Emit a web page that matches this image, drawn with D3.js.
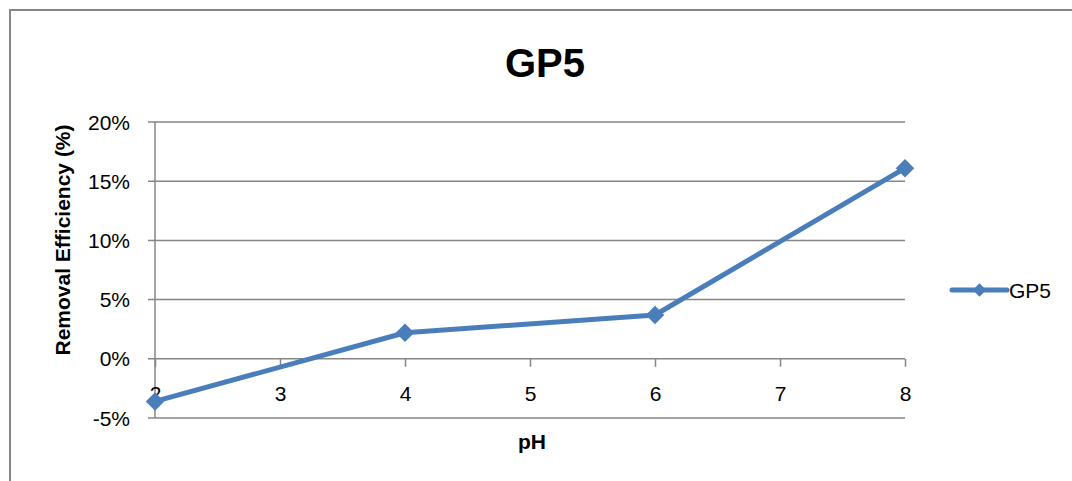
<!DOCTYPE html>
<html>
<head>
<meta charset="utf-8">
<script src="https://cdn.jsdelivr.net/npm/d3@7"></script>
<style>
  body { margin: 0; background: #fff; }
  svg { display: block; font-family: "Liberation Sans", Arial, sans-serif; }
</style>
</head>
<body>
<div id="chart"></div>
<script>
// data
const phValues = [2, 4, 6, 8];
const gp5Values = [-0.036, 0.022, 0.037, 0.161];
const yTicks = [-0.05, 0, 0.05, 0.10, 0.15, 0.20];
const xTicks = [2, 3, 4, 5, 6, 7, 8];

const width = 1072, height = 481;
const blue = "#4a7ebb", grid = "#868686";
const pct = d => d3.format(".0%")(d).replace("\u2212", "-");

let svg = d3.select("#chart").append("svg")
    .attr("width", width)
    .attr("height", height);

// outer chart frame
svg.append("rect")
    .attr("x", 10).attr("y", 10)
    .attr("width", width + 20).attr("height", height + 20)
    .attr("fill", "none")
    .attr("stroke", grid)
    .attr("stroke-width", 2);

let x = d3.scaleLinear().domain([2, 8]).range([155, 905]);
let y = d3.scaleLinear().domain([-0.05, 0.20]).range([418, 122]);

// gridlines
svg.append("g")
    .selectAll("line")
    .data(yTicks)
    .join("line")
    .attr("x1", 148).attr("x2", x(8))
    .attr("y1", d => y(d)).attr("y2", d => y(d))
    .attr("stroke", grid)
    .attr("stroke-width", 1.5);

// y axis line
svg.append("line")
    .attr("x1", x(2)).attr("x2", x(2))
    .attr("y1", y(0.20)).attr("y2", y(-0.05))
    .attr("stroke", grid)
    .attr("stroke-width", 1.5);

// y labels
svg.append("g")
    .selectAll("text")
    .data(yTicks)
    .join("text")
    .attr("x", 130)
    .attr("y", d => y(d))
    .attr("dy", "0.36em")
    .attr("text-anchor", "end")
    .style("font-size", "21px")
    .text(pct);

// x axis crosses at 0
let xAxis = svg.append("g")
    .attr("transform", `translate(0, ${y(0)})`)
    .call(d3.axisBottom(x).tickValues(xTicks).tickSize(8).tickPadding(19).tickFormat(d3.format("d")));
xAxis.select(".domain").remove();
xAxis.selectAll(".tick line").attr("stroke", grid).attr("stroke-width", 1.5);
xAxis.selectAll(".tick text")
    .attr("fill", "#000")
    .style("font-size", "21px")
    .style("font-family", "Liberation Sans, Arial, sans-serif");

// series line
let pts = phValues.map((d, i) => [d, gp5Values[i]]);
svg.append("path")
    .datum(pts)
    .attr("fill", "none")
    .attr("stroke", blue)
    .attr("stroke-width", 5)
    .attr("stroke-linejoin", "round")
    .attr("d", d3.line().x(d => x(d[0])).y(d => y(d[1])));

let diamond = d3.symbol().type(d3.symbolSquare).size(170);
svg.append("g")
    .selectAll("path")
    .data(pts)
    .join("path")
    .attr("d", diamond)
    .attr("fill", blue)
    .attr("transform", d => `translate(${x(d[0])}, ${y(d[1])}) rotate(45)`);

// title
svg.append("text")
    .attr("x", 545).attr("y", 77)
    .attr("text-anchor", "middle")
    .style("font-size", "40px")
    .style("font-weight", "bold")
    .text("GP5");

// axis titles
svg.append("text")
    .attr("x", 532).attr("y", 449)
    .attr("text-anchor", "middle")
    .style("font-size", "21px")
    .style("font-weight", "bold")
    .text("pH");

svg.append("text")
    .attr("transform", "translate(70, 240) rotate(-90)")
    .attr("text-anchor", "middle")
    .style("font-size", "21px")
    .style("font-weight", "bold")
    .text("Removal Efficiency (%)");

// legend
let legend = svg.append("g").attr("transform", "translate(952, 290)");
legend.append("line")
    .attr("x1", 0).attr("x2", 55)
    .attr("stroke", blue)
    .attr("stroke-width", 5)
    .attr("stroke-linecap", "round");
legend.append("path")
    .attr("d", d3.symbol().type(d3.symbolSquare).size(90))
    .attr("fill", blue)
    .attr("transform", "translate(27.5, 0) rotate(45)");
legend.append("text")
    .attr("x", 57).attr("dy", "0.36em")
    .style("font-size", "21px")
    .text("GP5");
</script>
</body>
</html>
